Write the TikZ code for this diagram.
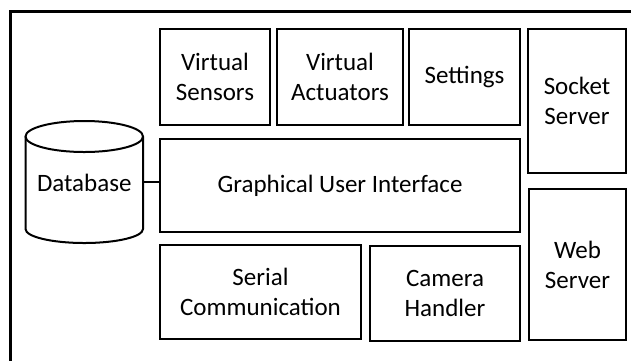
\documentclass[tikz,border=0pt]{standalone}
\usepackage{fontspec}
\setmainfont{Carlito}
\begin{document}
\begin{tikzpicture}[x=1pt,y=1pt,
  blk/.style={draw=black, line width=2pt, align=center, inner sep=0pt,
    font=\fontsize{25}{30}\selectfont},
  frame/.style={draw=black, line width=2.6pt},
  conn/.style={draw=black, line width=2pt}]
\useasboundingbox (0,0) rectangle (631,-360);
% outer frame (cut by the picture edge at right and bottom)
\draw[frame] (10.5,-11.5) rectangle (645,-375);
% boxes
\node[blk, minimum width=110, minimum height=96] (vs) at (215,-77) {Virtual\\Sensors};
\node[blk, minimum width=126, minimum height=96] (va) at (340,-77) {Virtual\\Actuators};
\node[blk, minimum width=111, minimum height=96] (set) at (464.5,-77) {Settings};
\node[blk, minimum width=98, minimum height=144] (sock) at (577,-101) {Socket\\Server};
\node[blk, minimum width=360, minimum height=93] (gui) at (340,-185.5) {Graphical User Interface};
\node[blk, minimum width=97, minimum height=151] (web) at (577.5,-264.5) {Web\\Server};
\node[blk, minimum width=201, minimum height=94] (ser) at (260.5,-292) {Serial\\Communication};
\node[blk, minimum width=150, minimum height=95] (cam) at (445,-293.5) {Camera\\Handler};
% database cylinder
\draw[line width=2pt] (25.5,-136.5) -- (25.5,-229) arc (180:360:58.75 and 14) -- (143,-136.5);
\draw[line width=2pt] (84.25,-136.5) ellipse (58.75 and 15.5);
\node[inner sep=0pt, font=\fontsize{25}{30}\selectfont] (db) at (84.25,-183) {Database};
\coordinate (dbR) at (143,-182);
\draw[conn] (dbR) -- (dbR -| gui.west);
\end{tikzpicture}
\end{document}
